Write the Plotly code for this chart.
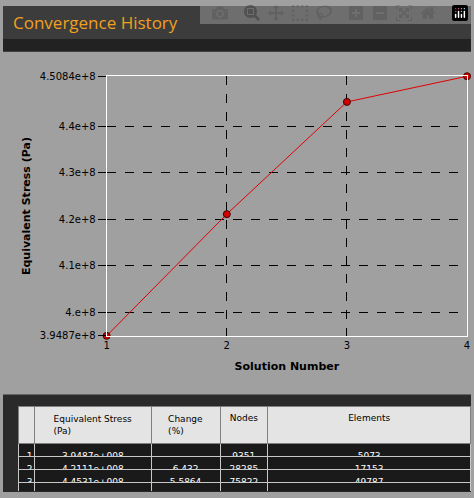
import plotly.graph_objects as go

solution = [1, 2, 3, 4]
stress = [3.9487e8, 4.2111e8, 4.4531e8, 4.5084e8]
stress_txt = ["3.9487e+008", "4.2111e+008", "4.4531e+008", "4.5084e+008"]
change = ["", "6.432", "5.5864", "1.2349", ""]
nodes = ["9351", "28285", "75822", "164649", ""]
elements = ["5073", "17153", "49787", "111693", ""]
ytick_vals = [3.9487e8, 4.0e8, 4.1e8, 4.2e8, 4.3e8, 4.4e8, 4.5084e8]
ytick_text = ["3.9487e+8", "4.e+8", "4.1e+8", "4.2e+8", "4.3e+8", "4.4e+8", "4.5084e+8"]

W, H = 474, 498
def py(p):
    return 1 - p / H

fig = go.Figure()
fig.add_trace(go.Scatter(
    x=solution, y=stress, mode="lines+markers",
    line=dict(color="#e00000", width=1),
    marker=dict(color="#d00000", size=7, line=dict(color="#400000", width=1)),
    showlegend=False, cliponaxis=False))

fig.add_trace(go.Table(
    domain=dict(x=[16 / W, 1], y=[0, py(410)]),
    columnwidth=[16, 118, 70, 48, 206],
    header=dict(values=["", "Equivalent Stress (Pa)", "Change (%)", "Nodes", "Elements"],
                fill_color="#e4e4e4", line_color="#808080", height=17,
                font=dict(family="DejaVu Sans", size=9, color="black"), align="center"),
    cells=dict(values=[["1", "2", "3", "4", ""], stress_txt + [""], change, nodes, elements],
               fill_color="#1a1a1a", line_color="#c8c8c8", height=13,
               font=dict(family="DejaVu Sans", size=9, color="white"),
               align=["left", "center", "center", "center", "center"])))

shapes = [
    dict(type="rect", xref="paper", yref="paper", x0=0, x1=1, y0=py(33), y1=1,
         fillcolor="#3c3c3c", line_width=0, layer="below"),
    dict(type="rect", xref="paper", yref="paper", x0=0, x1=1, y0=py(47), y1=py(33),
         fillcolor="#222222", line_width=0, layer="below"),
    dict(type="rect", xref="paper", yref="paper", x0=0, x1=1, y0=0, y1=py(398),
         fillcolor="#2a2a2a", line_width=0, layer="below"),
]

fig.update_layout(
    width=W, height=H, margin=dict(l=0, r=0, t=0, b=0),
    paper_bgcolor="#a0a0a0", plot_bgcolor="#a0a0a0",
    font=dict(family="DejaVu Sans", color="black", size=10),
    shapes=shapes,
    annotations=[dict(text="Convergence History", xref="paper", yref="paper",
                      x=8 / W, y=py(17), xanchor="left", yanchor="middle", showarrow=False,
                      font=dict(family="Open Sans", size=17, color="#f0a020"))],
    xaxis=dict(domain=[105 / W, 470 / W], range=[1, 4], tickvals=solution,
               showgrid=True, gridcolor="black", griddash="dash", gridwidth=1,
               zeroline=False, showline=True, linecolor="white", mirror=True,
               ticks="", title=dict(text="<b>Solution Number</b>", standoff=12,
                                    font=dict(size=11))),
    yaxis=dict(domain=[py(338), py(72)], range=[3.9487e8, 4.5084e8],
               tickvals=ytick_vals, ticktext=ytick_text,
               showgrid=True, gridcolor="black", griddash="dash", gridwidth=1,
               zeroline=False, showline=True, linecolor="white", mirror=True,
               ticks="outside", ticklen=8, tickcolor="black",
               title=dict(text="<b>Equivalent Stress (Pa)</b>", standoff=6,
                          font=dict(size=11))),
)

fig.write_html("out.html", post_script="document.body.style.margin='0';document.body.style.overflow='hidden';")
